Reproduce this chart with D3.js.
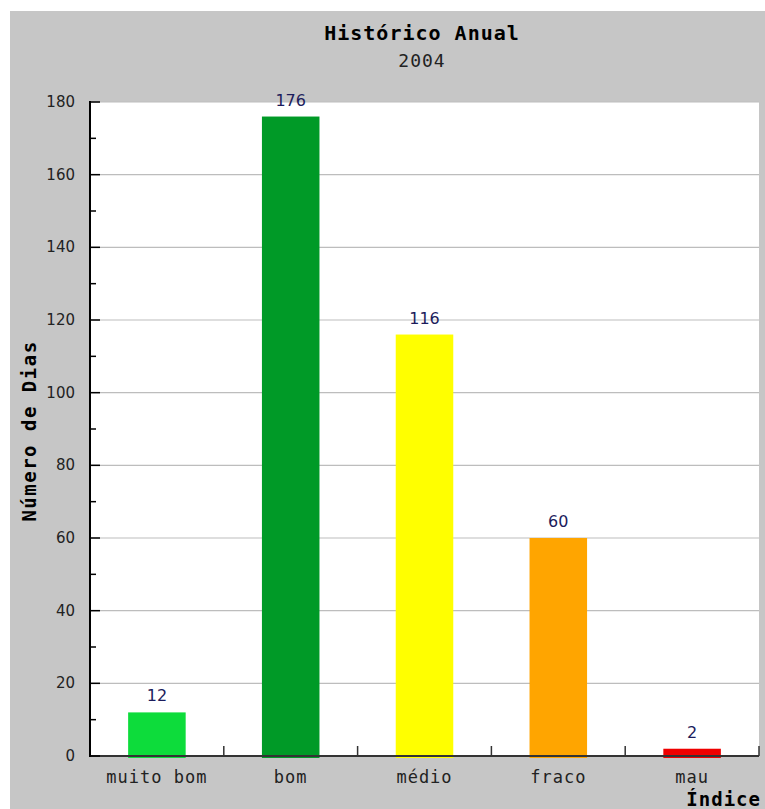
<!DOCTYPE html>
<html>
<head>
<meta charset="utf-8">
<script src="https://cdn.jsdelivr.net/npm/d3@7"></script>
<style>
  body { margin: 0; background: #fff; }
  svg text { font-family: "DejaVu Sans Mono", monospace; }
</style>
</head>
<body>
<div id="chart"></div>
<script>
const categories = ["muito bom", "bom", "médio", "fraco", "mau"];
const values = [12, 176, 116, 60, 2];
const colors = ["#0ddc3b", "#009a27", "#ffff00", "#ffa500", "#ee0000"];
const yTicks = [0, 20, 40, 60, 80, 100, 120, 140, 160, 180];
const yMinorTicks = [10, 30, 50, 70, 90, 110, 130, 150, 170];

const svgWidth = 765;
const svgHeight = 809;
const margin = { top: 102, right: 6, bottom: 53, left: 90 };
const width = svgWidth - margin.left - margin.right;
const height = svgHeight - margin.top - margin.bottom;

const root = d3.select("#chart")
    .append("svg")
    .attr("width", svgWidth)
    .attr("height", svgHeight);

// grey panel
root.append("rect")
    .attr("x", 10)
    .attr("y", 11)
    .attr("width", svgWidth - 10)
    .attr("height", svgHeight - 11)
    .attr("fill", "#c6c6c6");

root.append("text")
    .attr("x", 422)
    .attr("y", 40)
    .attr("text-anchor", "middle")
    .style("font-size", "20px")
    .style("font-weight", "bold")
    .style("letter-spacing", "1px")
    .text("Histórico Anual");

root.append("text")
    .attr("x", 422)
    .attr("y", 67)
    .attr("text-anchor", "middle")
    .style("font-size", "18px")
    .style("letter-spacing", "1px")
    .attr("fill", "#222")
    .text("2004");

const svg = root.append("g")
    .attr("transform", "translate(" + margin.left + "," + margin.top + ")");

svg.append("rect")
    .attr("width", width)
    .attr("height", height)
    .attr("fill", "#fff");

const xScale = d3.scaleBand()
    .domain(categories)
    .range([0, width])
    .padding(0);

const yScale = d3.scaleLinear()
    .domain([0, 180])
    .range([height, 0]);

// gridlines
svg.selectAll(".grid")
    .data(yTicks.slice(1))
    .enter()
    .append("line")
    .attr("class", "grid")
    .attr("x1", 0)
    .attr("x2", width)
    .attr("y1", d => yScale(d))
    .attr("y2", d => yScale(d))
    .attr("stroke", "#bdbdbd")
    .attr("stroke-width", 1.2);

const barW = xScale.bandwidth() * 0.43;

svg.selectAll(".bar")
    .data(values)
    .enter()
    .append("rect")
    .attr("class", "bar")
    .attr("x", (d, i) => xScale(categories[i]) + (xScale.bandwidth() - barW) / 2)
    .attr("y", d => yScale(d))
    .attr("width", barW)
    .attr("height", d => height - yScale(d) + 2)
    .attr("fill", (d, i) => colors[i]);

svg.selectAll(".val")
    .data(values)
    .enter()
    .append("text")
    .attr("class", "val")
    .attr("x", (d, i) => xScale(categories[i]) + xScale.bandwidth() / 2)
    .attr("y", d => yScale(d) - 11)
    .attr("text-anchor", "middle")
    .attr("fill", "#1c1c5c")
    .style("font-size", "16px")
    .style("font-family", "Verdana, 'DejaVu Sans', sans-serif")
    .text(d => d);

// x axis
const xAxis = svg.append("g")
    .attr("transform", "translate(0," + height + ")");
xAxis.append("line")
    .attr("x1", 0).attr("x2", width)
    .attr("stroke", "#333").attr("stroke-width", 2);
xAxis.selectAll(".xt")
    .data(categories.slice(1).concat(["end"]))
    .enter()
    .append("line")
    .attr("x1", (d, i) => xScale.step() * (i + 1))
    .attr("x2", (d, i) => xScale.step() * (i + 1))
    .attr("y1", 0).attr("y2", -10)
    .attr("stroke", "#333").attr("stroke-width", 1.5);
xAxis.selectAll(".xl")
    .data(categories)
    .enter()
    .append("text")
    .attr("x", d => xScale(d) + xScale.bandwidth() / 2)
    .attr("y", 27)
    .attr("text-anchor", "middle")
    .style("font-size", "17px")
    .style("letter-spacing", "1px")
    .attr("fill", "#222")
    .text(d => d);

// y axis
const yAxis = svg.append("g");
yAxis.append("line")
    .attr("y1", -1).attr("y2", height + 1)
    .attr("stroke", "#000").attr("stroke-width", 2);
yAxis.selectAll(".yt")
    .data(yTicks)
    .enter()
    .append("line")
    .attr("x1", 0).attr("x2", 10)
    .attr("y1", d => yScale(d)).attr("y2", d => yScale(d))
    .attr("stroke", "#000").attr("stroke-width", 1.5);
yAxis.selectAll(".ym")
    .data(yMinorTicks)
    .enter()
    .append("line")
    .attr("x1", 0).attr("x2", 6)
    .attr("y1", d => yScale(d)).attr("y2", d => yScale(d))
    .attr("stroke", "#000").attr("stroke-width", 1.5);
yAxis.selectAll(".yl")
    .data(yTicks)
    .enter()
    .append("text")
    .attr("x", -15)
    .attr("y", d => yScale(d) + 5)
    .attr("text-anchor", "end")
    .style("font-size", "15px")
    .style("font-family", "Verdana, 'DejaVu Sans', sans-serif")
    .attr("fill", "#222")
    .text(d => d);

root.append("text")
    .attr("transform", "translate(36,431) rotate(-90)")
    .attr("text-anchor", "middle")
    .style("font-size", "19px")
    .style("font-weight", "bold")
    .style("letter-spacing", "1.5px")
    .text("Número de Dias");

root.append("text")
    .attr("x", 761)
    .attr("y", 806)
    .attr("text-anchor", "end")
    .style("font-size", "19px")
    .style("font-weight", "bold")
    .style("letter-spacing", "1px")
    .text("Índice");
</script>
</body>
</html>
